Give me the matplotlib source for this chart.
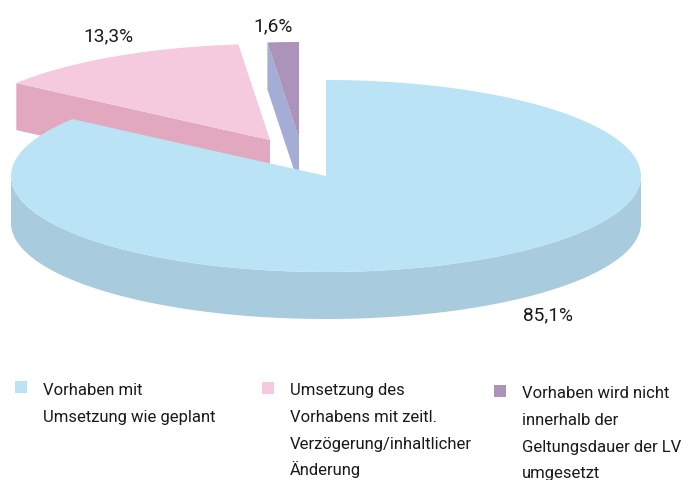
import numpy as np
import matplotlib
matplotlib.use('Agg')
import matplotlib.pyplot as plt
from matplotlib.patches import Rectangle

plt.rcParams['font.family'] = ['Roboto', 'Liberation Sans', 'DejaVu Sans']

shares = [85.1, 13.3, 1.6]
share_labels = ['85,1%', '13,3%', '1,6%']
legend_labels = [['Vorhaben mit', 'Umsetzung wie geplant'],
                 ['Umsetzung des', 'Vorhabens mit zeitl.', 'Verzögerung/inhaltlicher', 'Änderung'],
                 ['Vorhaben wird nicht', 'innerhalb der', 'Geltungsdauer der LV', 'umgesetzt']]
top_colors = ['#BBE3F6', '#F5C9DE', '#AB93BA']
wall_colors = ['#A9CBDE', '#E1A8C0', '#A4ADD5']

# pie is drawn in pixel coords of the picture
RX, RY, DEPTH = 315, 96, 47
LINE = 26.8
apex = [(326, 176), (270, 140), (299, 138)]
label_pos = [(548, 320), (108, 41), (273, 31)]
square_pos = [(15, 381), (262, 382), (494, 385)]
text_pos = [(43, 395), (290, 395), (522, 398)]

fig = plt.figure(figsize=(6.83, 4.8), dpi=100)
ax = fig.add_axes([0, 0, 1, 1])
ax.set_xlim(0, 683)
ax.set_ylim(480, 0)
ax.axis('off')


def rim(i, a0, a1):
    # angles clockwise from 12 o'clock, in degrees
    t = np.radians(np.linspace(a0, a1, 200))
    return apex[i][0] + RX * np.sin(t), apex[i][1] - RY * np.cos(t)


edges = np.concatenate([[0], np.cumsum(shares) / sum(shares) * 360])

# pink: wall facing the blue slice, then top
x, y = rim(1, edges[1], edges[1])
ax.fill([x[0], apex[1][0], apex[1][0], x[0]],
        [y[0], apex[1][1], apex[1][1] + DEPTH, y[0] + DEPTH], color=wall_colors[1], lw=0)
x, y = rim(1, edges[1], edges[2])
ax.fill(np.r_[apex[1][0], x], np.r_[apex[1][1], y], color=top_colors[1], lw=0)

# purple: wall facing the blue slice, then top
x, y = rim(2, edges[2], edges[2])
ax.fill([x[0], apex[2][0], apex[2][0], x[0]],
        [y[0], apex[2][1], apex[2][1] + DEPTH, y[0] + DEPTH], color=wall_colors[2], lw=0)
x, y = rim(2, edges[2], edges[3])
ax.fill(np.r_[apex[2][0], x], np.r_[apex[2][1], y], color=top_colors[2], lw=0)

# blue: outer wall along the front of the rim, then top
x, y = rim(0, 90, 270)
ax.fill(np.r_[x, x[::-1]], np.r_[y, y[::-1] + DEPTH], color=wall_colors[0], lw=0)
x, y = rim(0, edges[0], edges[1])
ax.fill(np.r_[apex[0][0], x], np.r_[apex[0][1], y], color=top_colors[0], lw=0)

for txt, (px, py) in zip(share_labels, label_pos):
    ax.text(px, py, txt, fontsize=13.8, color='#1a1a1a', ha='center', va='baseline')

for i, lines in enumerate(legend_labels):
    ax.add_patch(Rectangle(square_pos[i], 12, 12, color=top_colors[i], lw=0))
    for j, txt in enumerate(lines):
        ax.text(text_pos[i][0], text_pos[i][1] + j * LINE, txt, fontsize=12, color='#1a1a1a',
                ha='left', va='baseline')

fig.savefig('out.png', dpi=100)
